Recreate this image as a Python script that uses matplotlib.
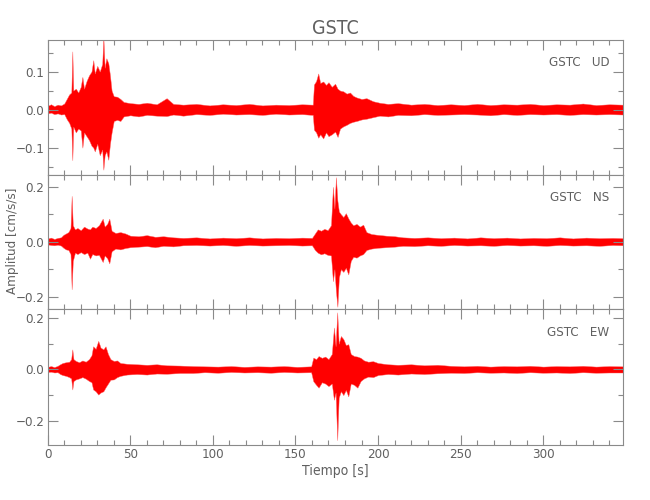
import matplotlib
matplotlib.use("Agg")
import matplotlib.pyplot as plt
import numpy as np
from matplotlib.ticker import MultipleLocator

plt.rcParams["font.family"] = ["DejaVu Sans"]
plt.rcParams["font.stretch"] = "condensed"

estacion = "GSTC"
componentes = ["UD", "NS", "EW"]
t_max = 348.3

# envolvente: (tiempo [s], maximo, minimo)
env_ud = [
    (0, 0.010, -0.010), (2, 0.014, -0.008), (4, 0.009, -0.012), (6, 0.013, -0.010),
    (8, 0.011, -0.013), (10, 0.016, -0.012), (11.5, 0.028, -0.025), (13, 0.040, -0.035),
    (14.3, 0.045, -0.050), (14.9, 0.153, -0.133), (15.5, 0.050, -0.045), (17, 0.055, -0.060),
    (18.5, 0.045, -0.050), (20, 0.060, -0.055), (21, 0.086, -0.100), (22, 0.055, -0.060),
    (23.5, 0.075, -0.070), (25, 0.090, -0.080), (26.5, 0.100, -0.095), (27.6, 0.130, -0.100),
    (28.5, 0.095, -0.110), (30, 0.115, -0.090), (31.5, 0.100, -0.120), (33, 0.120, -0.105),
    (33.7, 0.190, -0.158), (34.5, 0.110, -0.120), (35.5, 0.135, -0.110), (36.7, 0.122, -0.132),
    (37.7, 0.090, -0.090), (38.7, 0.050, -0.060), (40, 0.035, -0.030), (42, 0.034, -0.027),
    (44, 0.028, -0.030), (46, 0.020, -0.018), (50, 0.017, -0.015), (55, 0.015, -0.018),
    (60, 0.018, -0.014), (66, 0.014, -0.016), (72, 0.030, -0.017), (76, 0.015, -0.013),
    (82, 0.013, -0.016), (90, 0.015, -0.012), (98, 0.011, -0.014), (106, 0.014, -0.011),
    (114, 0.012, -0.013), (122, 0.015, -0.012), (130, 0.011, -0.014), (138, 0.013, -0.011),
    (146, 0.012, -0.013), (154, 0.014, -0.012), (160.5, 0.013, -0.014), (161.2, 0.066, -0.053),
    (162.5, 0.075, -0.060), (163.8, 0.095, -0.074), (165, 0.070, -0.065), (166.8, 0.074, -0.076),
    (168.5, 0.065, -0.060), (170, 0.072, -0.070), (172, 0.060, -0.065), (174, 0.068, -0.058),
    (175.5, 0.055, -0.072), (177, 0.050, -0.050), (179, 0.048, -0.044), (181, 0.042, -0.040),
    (183, 0.045, -0.035), (185, 0.036, -0.032), (187, 0.032, -0.030), (190, 0.028, -0.026),
    (193, 0.030, -0.024), (197, 0.022, -0.020), (201, 0.018, -0.016), (206, 0.015, -0.018),
    (212, 0.017, -0.014), (220, 0.013, -0.015), (228, 0.015, -0.012), (236, 0.012, -0.014),
    (244, 0.014, -0.013), (252, 0.012, -0.012), (260, 0.015, -0.013), (268, 0.012, -0.015),
    (276, 0.014, -0.012), (284, 0.013, -0.014), (292, 0.015, -0.012), (300, 0.012, -0.013),
    (308, 0.014, -0.012), (316, 0.013, -0.014), (324, 0.016, -0.012), (332, 0.012, -0.013),
    (340, 0.014, -0.012), (348.3, 0.013, -0.013),
]

env_ns = [
    (0, 0.012, -0.010), (2, 0.015, -0.012), (4, 0.010, -0.013), (6, 0.014, -0.011),
    (8, 0.016, -0.014), (9.5, 0.025, -0.022), (11, 0.030, -0.028), (12.5, 0.035, -0.030),
    (13.8, 0.050, -0.045), (14.5, 0.167, -0.173), (15.2, 0.060, -0.070), (16.5, 0.045, -0.040),
    (18, 0.050, -0.045), (20, 0.042, -0.038), (22, 0.055, -0.045), (24, 0.048, -0.040),
    (25.6, 0.045, -0.062), (27, 0.055, -0.045), (29, 0.050, -0.050), (31, 0.060, -0.048),
    (33.3, 0.084, -0.074), (34.5, 0.055, -0.050), (36, 0.065, -0.060), (37.3, 0.084, -0.079),
    (38.7, 0.040, -0.035), (41, 0.032, -0.025), (44, 0.035, -0.028), (47, 0.030, -0.023),
    (50, 0.022, -0.020), (55, 0.020, -0.018), (60, 0.024, -0.016), (65, 0.018, -0.020),
    (70, 0.020, -0.015), (76, 0.016, -0.017), (82, 0.014, -0.013), (90, 0.016, -0.012),
    (98, 0.012, -0.014), (106, 0.015, -0.012), (114, 0.013, -0.015), (122, 0.016, -0.012),
    (130, 0.012, -0.014), (138, 0.014, -0.013), (146, 0.013, -0.012), (154, 0.015, -0.014),
    (160, 0.014, -0.013), (161.8, 0.030, -0.030), (163.5, 0.045, -0.040), (165.5, 0.040, -0.046),
    (167.5, 0.047, -0.042), (169.5, 0.042, -0.048), (171.5, 0.060, -0.050), (172.7, 0.200, -0.144),
    (173.6, 0.120, -0.100), (174.5, 0.235, -0.180), (175.4, 0.150, -0.237), (176.3, 0.110, -0.130),
    (177.5, 0.100, -0.100), (179, 0.090, -0.110), (180.5, 0.104, -0.095), (182, 0.085, -0.119),
    (183.5, 0.070, -0.070), (185, 0.060, -0.055), (187, 0.065, -0.058), (189, 0.055, -0.050),
    (191, 0.062, -0.045), (193, 0.035, -0.030), (196, 0.028, -0.025), (200, 0.025, -0.022),
    (205, 0.022, -0.020), (210, 0.020, -0.018), (215, 0.016, -0.015), (222, 0.014, -0.016),
    (230, 0.016, -0.013), (238, 0.013, -0.015), (246, 0.015, -0.012), (254, 0.012, -0.014),
    (262, 0.016, -0.013), (270, 0.013, -0.015), (278, 0.015, -0.012), (286, 0.012, -0.014),
    (294, 0.014, -0.013), (302, 0.013, -0.015), (310, 0.016, -0.012), (318, 0.012, -0.014),
    (326, 0.015, -0.013), (334, 0.013, -0.015), (342, 0.014, -0.012), (348.3, 0.013, -0.013),
]

env_ew = [
    (0, 0.010, -0.010), (2, 0.013, -0.009), (4, 0.009, -0.012), (6, 0.014, -0.011),
    (7.5, 0.020, -0.018), (9, 0.025, -0.022), (11, 0.028, -0.025), (13, 0.030, -0.030),
    (14.2, 0.040, -0.035), (14.9, 0.078, -0.078), (15.6, 0.040, -0.045), (17, 0.033, -0.039),
    (19, 0.028, -0.035), (21, 0.035, -0.030), (23, 0.030, -0.036), (25, 0.040, -0.045),
    (26.5, 0.055, -0.050), (27.5, 0.090, -0.078), (29, 0.080, -0.085), (30.6, 0.111, -0.098),
    (32, 0.085, -0.090), (33.7, 0.078, -0.085), (35, 0.090, -0.070), (36.5, 0.060, -0.055),
    (38, 0.040, -0.040), (40, 0.033, -0.039), (42, 0.035, -0.030), (44, 0.025, -0.025),
    (48, 0.022, -0.020), (54, 0.020, -0.018), (60, 0.018, -0.020), (66, 0.020, -0.016),
    (72, 0.016, -0.017), (80, 0.015, -0.014), (88, 0.013, -0.014), (95, 0.012, -0.011),
    (103, 0.011, -0.013), (111, 0.013, -0.010), (119, 0.010, -0.012), (127, 0.012, -0.011),
    (135, 0.011, -0.013), (143, 0.013, -0.010), (151, 0.010, -0.012), (159.5, 0.012, -0.011),
    (160.8, 0.046, -0.046), (162.5, 0.040, -0.060), (164, 0.052, -0.071), (166, 0.045, -0.050),
    (168, 0.050, -0.055), (170, 0.040, -0.065), (172, 0.060, -0.055), (173.3, 0.163, -0.118),
    (174.3, 0.090, -0.090), (175.3, 0.222, -0.275), (176.2, 0.100, -0.110), (177.5, 0.130, -0.085),
    (179, 0.118, -0.100), (180.5, 0.095, -0.080), (182, 0.098, -0.105), (183.5, 0.060, -0.055),
    (185.5, 0.052, -0.060), (187.5, 0.050, -0.071), (189.5, 0.045, -0.045), (191.5, 0.035, -0.035),
    (194, 0.030, -0.028), (197, 0.032, -0.030), (200, 0.025, -0.022), (206, 0.020, -0.018),
    (212, 0.018, -0.020), (220, 0.020, -0.016), (228, 0.016, -0.018), (236, 0.018, -0.015),
    (244, 0.014, -0.013), (252, 0.012, -0.014), (260, 0.014, -0.011), (268, 0.011, -0.013),
    (276, 0.013, -0.012), (284, 0.012, -0.014), (292, 0.014, -0.011), (300, 0.011, -0.013),
    (308, 0.013, -0.012), (316, 0.012, -0.014), (324, 0.014, -0.011), (332, 0.011, -0.013),
    (340, 0.013, -0.012), (348.3, 0.012, -0.012),
]

limites_y = [(-0.172, 0.183), (-0.245, 0.243), (-0.294, 0.235)]
paso_y = [(0.1, 0.05), (0.2, 0.1), (0.2, 0.1)]

gris = "#8a8a8a"
texto = "#606060"

fig = plt.figure(figsize=(6.5, 5), dpi=100)
izq, ancho = 0.0734, 0.885
posiciones = [(0.65, 0.27), (0.382, 0.268), (0.11, 0.272)]

ejes = []
for i, env in enumerate([env_ud, env_ns, env_ew]):
    b, h = posiciones[i]
    ax = fig.add_axes([izq, b, ancho, h])
    datos = np.array(env)
    t, maxi, mini = datos[:, 0], datos[:, 1], datos[:, 2]
    ax.fill_between(t, mini, maxi, color="#ff0000", lw=0.3, edgecolor="#ff6060")

    ax.set_xlim(0, t_max)
    ax.set_ylim(*limites_y[i])
    ax.xaxis.set_major_locator(MultipleLocator(50))
    ax.xaxis.set_minor_locator(MultipleLocator(10))
    ax.yaxis.set_major_locator(MultipleLocator(paso_y[i][0]))
    ax.yaxis.set_minor_locator(MultipleLocator(paso_y[i][1]))
    ax.yaxis.set_major_formatter(lambda v, p: f"{v:.1f}".replace("-", "\u2212"))
    ax.tick_params(which="both", direction="in", top=True, right=True,
                   color=gris, width=0.8, labelcolor=texto, labelsize=9.5, pad=2.5)
    ax.tick_params(which="major", length=7)
    ax.tick_params(which="minor", length=3.6)
    for s in ax.spines.values():
        s.set_color(gris)
        s.set_linewidth(0.8)
    if i < 2:
        ax.tick_params(labelbottom=False)
    ax.text(0.976, 0.83, f"{estacion}   {componentes[i]}", transform=ax.transAxes,
            ha="right", va="center", fontsize=9.5, color=texto)
    ejes.append(ax)

ejes[2].set_xlabel("Tiempo [s]", fontsize=10, color=texto, labelpad=2)
fig.text(0.019, 0.518, "Amplitud [cm/s/s]", rotation=90, ha="center", va="center",
         fontsize=9.5, color=texto)
fig.text(0.516, 0.942, estacion, ha="center", va="center", fontsize=14, color=texto)

fig.savefig("out.png", dpi=100)
